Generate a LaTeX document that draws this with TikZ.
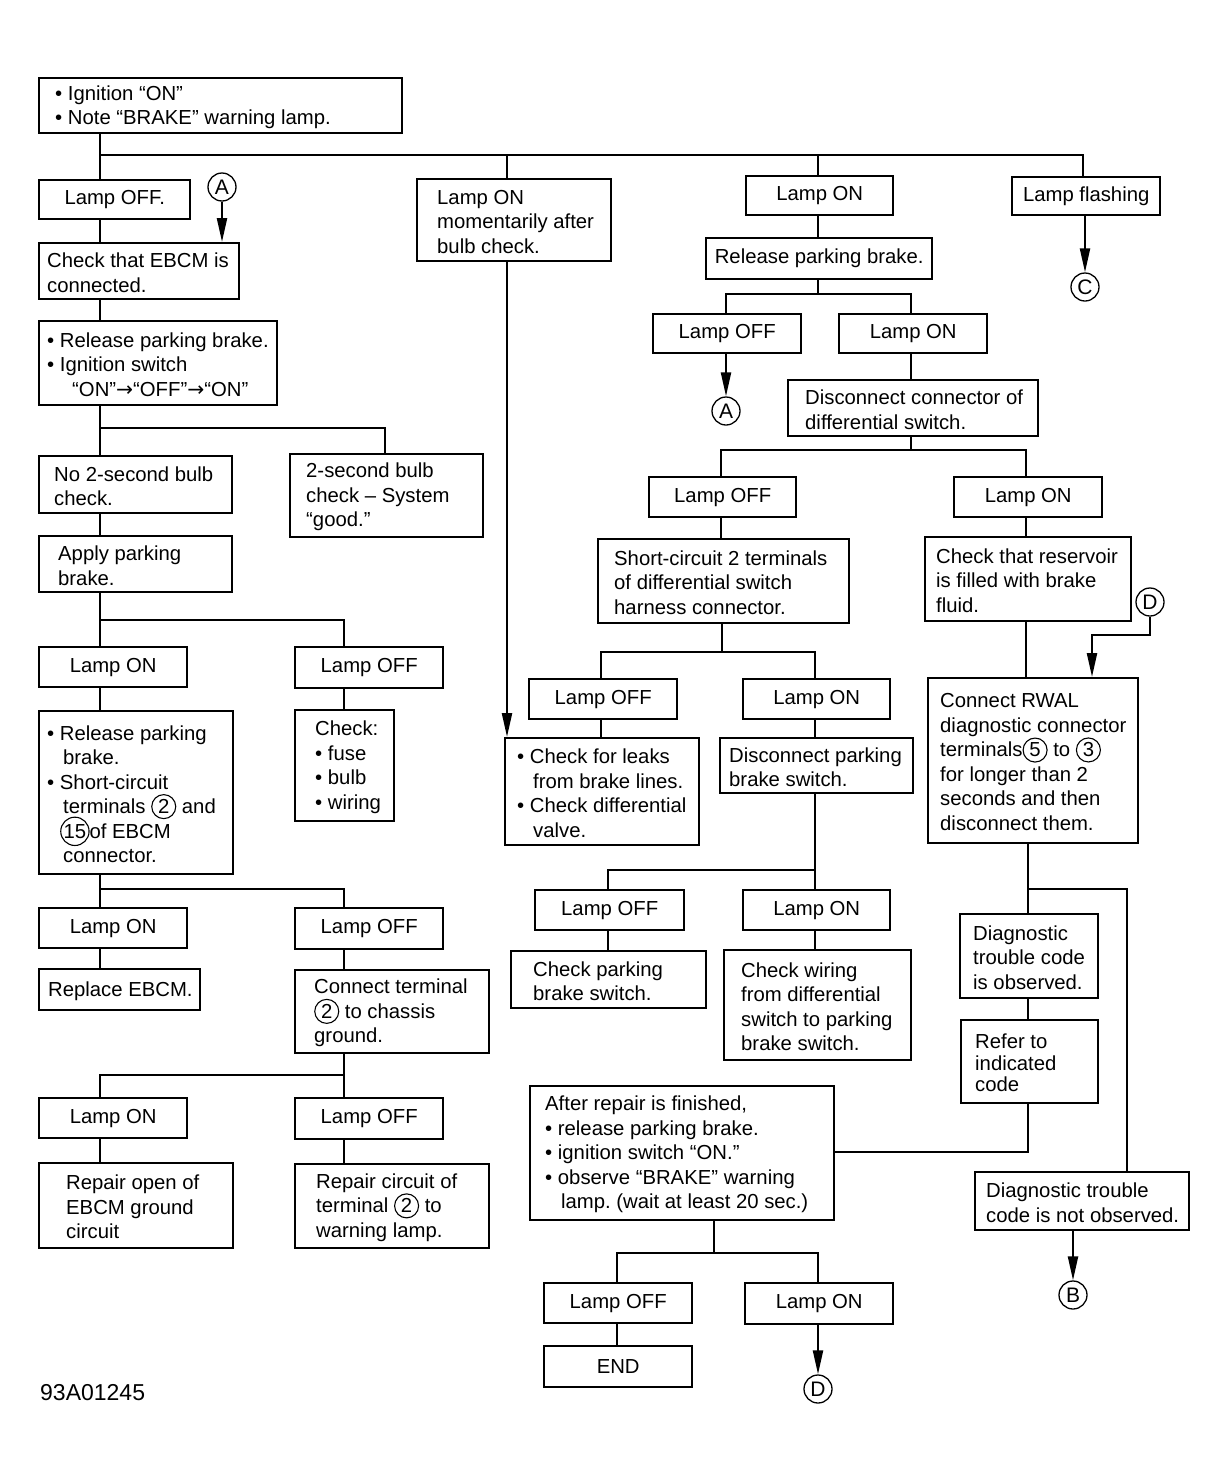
\documentclass[tikz,border=0pt]{standalone}
\usepackage{fontspec}
\setmainfont{Liberation Sans}
\newfontfamily\dejavu{DejaVu Sans}
\usetikzlibrary{arrows.meta,calc}
\newcommand\myfs{\fontsize{20.3}{24.5}\selectfont\frenchspacing\lineskiplimit=-20pt\lineskip=0pt}
\newcommand\myind{\hspace*{16pt}}
\newcommand\rar{{\dejavu →}}
\newcommand\circn[1]{\tikz[baseline=(cn.base)]\node[circle,draw,line width=1.1pt,inner sep=0.6pt,minimum size=24pt,anchor=center,font=\myfs](cn){#1};}
\tikzset{
  bx/.style={draw, line width=2.4pt, inner sep=0pt, font=\myfs, align=center},
  txt/.style={inner sep=0pt, font=\myfs, align=left, anchor=west},
  ln/.style={line width=2.2pt},
  arr/.style={line width=2.2pt, -{Triangle[length=24pt,width=10pt]}},
  ltr/.style={circle, draw, line width=1.3pt, inner sep=0pt, minimum size=28pt, font=\fontsize{21}{21}\selectfont},
}
% left-aligned box: [txt opts]{name}{x1}{y1}{x2}{y2}{pad}{text}
\newcommand\lbox[8][]{\pgfmathsetmacro\mybw{#5-#3}\pgfmathsetmacro\mybh{#6-#4}%
  \node[bx, minimum width=\mybw pt, minimum height=\mybh pt, anchor=north west] (#2) at (#3,#4) {};%
  \node[txt,#1] (#2t) at ([xshift=#7pt,yshift=-1.5pt]#2.west) {#8};}
% centred box: {name}{x1}{y1}{x2}{y2}{text}
\newcommand\cbox[6]{\pgfmathsetmacro\mybw{#4-#2}\pgfmathsetmacro\mybh{#5-#3}%
  \node[bx, minimum width=\mybw pt, minimum height=\mybh pt, anchor=north west] (#1) at (#2,#3) {#6};}
\begin{document}
\begin{tikzpicture}[x=1pt,y=-1pt]
\fill[white] (0,0) rectangle (1227,1478);
\useasboundingbox (0,0) rectangle (1227,1478);

% ---------- left column ----------
\lbox{top}{38}{77}{401}{132}{17}{• Ignition “ON”\\• Note “BRAKE” warning lamp.}
\cbox{loffa}{38}{179}{189}{218}{Lamp OFF.}
\node[ltr] (cAa) at (222,187) {A};
\lbox{chk}{38}{242}{238}{298}{9}{Check that EBCM is\\connected.}
\lbox{rela}{38}{320}{276}{404}{9}{• Release parking brake.\\• Ignition switch\\\hspace*{25pt}“ON”\rar“OFF”\rar“ON”}
\lbox{nob}{38}{455}{231}{512}{16}{No 2-second bulb\\check.}
\lbox{good}{289}{453}{482}{536}{17}{2-second bulb\\check – System\\“good.”}
\lbox{apply}{38}{535}{231}{591}{20}{Apply parking\\brake.}
\cbox{lona}{38}{646}{186}{686}{Lamp ON}
\cbox{loffb}{294}{646}{442}{687}{Lamp OFF}
\lbox{shorta}{38}{710}{232}{873}{9}{• Release parking\\\myind brake.\\• Short-circuit\\\myind terminals \circn{2} and\\\hspace*{13pt}\circn{15}of EBCM\\\myind connector.}
\lbox{chkb}{294}{709}{393}{820}{21}{Check:\\• fuse\\• bulb\\• wiring}
\cbox{lonb}{38}{907}{186}{947}{Lamp ON}
\cbox{loffc}{294}{907}{442}{948}{Lamp OFF}
\lbox{repl}{38}{968}{199}{1009}{10}{Replace EBCM.}
\lbox{conn}{294}{969}{488}{1052}{20}{Connect terminal\\\circn{2} to chassis\\ground.}
\cbox{lonc}{38}{1097}{186}{1137}{Lamp ON}
\cbox{loffd}{294}{1097}{442}{1138}{Lamp OFF}
\lbox{repa}{38}{1162}{232}{1247}{28}{Repair open of\\EBCM ground\\circuit}
\lbox{repb}{294}{1163}{488}{1247}{22}{Repair circuit of\\terminal \circn{2} to\\warning lamp.}

% ---------- middle / right ----------
\lbox{mom}{416}{178}{610}{260}{21}{Lamp ON\\momentarily after\\bulb check.}
\cbox{lond}{745}{175}{892}{214}{Lamp ON}
\cbox{flash}{1011}{176}{1159}{214}{Lamp flashing}
\node[ltr] (cC) at (1085,287) {C};
\cbox{relpb}{705}{237}{931}{278}{Release parking brake.}
\cbox{loffe}{652}{313}{800}{352}{Lamp OFF}
\cbox{lone}{838}{313}{986}{352}{Lamp ON}
\node[ltr] (cAb) at (726,411) {A};
\lbox{disc}{787}{379}{1037}{435}{18}{Disconnect connector of\\differential switch.}
\cbox{lofff}{648}{476}{795}{516}{Lamp OFF}
\cbox{lonf}{953}{476}{1101}{516}{Lamp ON}
\lbox{scb}{597}{538}{848}{622}{17}{Short-circuit 2 terminals\\of differential switch\\harness connector.}
\lbox{res}{924}{536}{1130}{620}{12}{Check that reservoir\\is filled with brake\\fluid.}
\node[ltr] (cDa) at (1150,602) {D};
\cbox{loffg}{528}{678}{676}{718}{Lamp OFF}
\cbox{long}{742}{678}{889}{718}{Lamp ON}
\lbox{leak}{504}{737}{698}{844}{13}{• Check for leaks\\\myind from brake lines.\\• Check differential\\\myind valve.}
\lbox{dpb}{719}{737}{912}{792}{10}{Disconnect parking\\brake switch.}
\lbox{rwal}{927}{677}{1137}{842}{13}{Connect RWAL\\diagnostic connector\\terminals\circn{5} to \circn{3}\\for longer than 2\\seconds and then\\disconnect them.}
\cbox{loffh}{534}{889}{683}{929}{Lamp OFF}
\cbox{lonh}{742}{889}{889}{929}{Lamp ON}
\lbox{cpb}{510}{950}{705}{1007}{23}{Check parking\\brake switch.}
\lbox{cw}{723}{949}{910}{1059}{18}{Check wiring\\from differential\\switch to parking\\brake switch.}
\lbox{dtc}{959}{913}{1097}{997}{14}{Diagnostic\\trouble code\\is observed.}
\lbox[font=\fontsize{20.3}{21.5}\selectfont]{refer}{960}{1019}{1097}{1102}{15}{Refer to\\indicated\\code}
\lbox{after}{529}{1085}{833}{1219}{16}{After repair is finished,\\• release parking brake.\\• ignition switch “ON.”\\• observe “BRAKE” warning\\\myind lamp. (wait at least 20 sec.)}
\lbox{notobs}{974}{1171}{1188}{1229}{12}{Diagnostic trouble\\code is not observed.}
\node[ltr] (cB) at (1073,1295) {B};
\cbox{loffi}{543}{1282}{691}{1322}{Lamp OFF}
\cbox{loni}{744}{1282}{892}{1323}{Lamp ON}
\cbox{endb}{543}{1345}{691}{1386}{END}
\node[ltr] (cDb) at (818,1389) {D};
\node[anchor=west, inner sep=0pt, font=\fontsize{23}{23}\selectfont] (code) at (40,1393) {93A01245};

% ---------- connectors ----------
\coordinate (j0) at (100,155); \coordinate (j0e) at (1083,155);
\coordinate (x507) at (507,155); \coordinate (x818) at (818,155);
\draw[ln] (top.south -| j0) -- (j0) -- (j0e) -- (j0e |- flash.north);
\draw[ln] (j0) -- (j0 |- loffa.north);
\draw[ln] (x507) -- (x507 |- mom.north);
\draw[ln] (x818) -- (x818 |- lond.north);
\draw[arr] (cAa) -- (cAa |- chk.north);
\draw[ln] (loffa.south -| j0) -- (chk.north -| j0);
\draw[ln] (chk.south -| j0) -- (rela.north -| j0);
\coordinate (j1) at (100,428); \coordinate (j1e) at (385,428);
\draw[ln] (rela.south -| j1) -- (j1 |- nob.north);
\draw[ln] (j1) -- (j1e) -- (j1e |- good.north);
\draw[ln] (nob.south -| j1) -- (apply.north -| j1);
\coordinate (j2) at (100,620); \coordinate (j2e) at (344,620);
\draw[ln] (apply.south -| j2) -- (j2 |- lona.north);
\draw[ln] (j2) -- (j2e) -- (j2e |- loffb.north);
\draw[ln] (lona.south -| j2) -- (shorta.north -| j2);
\draw[ln] (loffb.south -| j2e) -- (chkb.north -| j2e);
\coordinate (j3) at (100,889); \coordinate (j3e) at (344,889);
\draw[ln] (shorta.south -| j3) -- (j3 |- lonb.north);
\draw[ln] (j3) -- (j3e) -- (j3e |- loffc.north);
\draw[ln] (lonb.south -| j3) -- (repl.north -| j3);
\draw[ln] (loffc.south -| j3e) -- (conn.north -| j3e);
\coordinate (j4) at (344,1075); \coordinate (j4w) at (100,1075);
\draw[ln] (conn.south -| j4) -- (j4 |- loffd.north);
\draw[ln] (j4) -- (j4w) -- (j4w |- lonc.north);
\draw[ln] (lonc.south -| j4w) -- (repa.north -| j4w);
\draw[ln] (loffd.south -| j4) -- (repb.north -| j4);
\draw[arr] (mom.south -| x507) -- (leak.north -| x507);
\draw[ln] (lond.south -| x818) -- (relpb.north -| x818);
\draw[arr] (flash.south -| cC) -- (cC);
\coordinate (j5) at (818,294); \coordinate (j5w) at (726,294); \coordinate (j5e) at (911,294);
\draw[ln] (relpb.south -| j5) -- (j5);
\draw[ln] (j5w |- loffe.north) -- (j5w) -- (j5e) -- (j5e |- lone.north);
\draw[arr] (loffe.south -| j5w) -- (cAb);
\draw[ln] (lone.south -| j5e) -- (disc.north -| j5e);
\coordinate (j6) at (911,450); \coordinate (j6w) at (721,450); \coordinate (j6e) at (1026,450);
\draw[ln] (disc.south -| j6) -- (j6);
\draw[ln] (j6w |- lofff.north) -- (j6w) -- (j6e) -- (j6e |- lonf.north);
\draw[ln] (lofff.south -| j6w) -- (scb.north -| j6w);
\draw[ln] (lonf.south -| j6e) -- (res.north -| j6e);
\draw[ln] (res.south -| j6e) -- (rwal.north -| j6e);
\coordinate (dj) at (1092,635);
\draw[arr] (cDa) |- (dj) -- (dj |- rwal.north);
\coordinate (j7) at (722,652); \coordinate (j7w) at (601,652); \coordinate (j7e) at (815,652);
\draw[ln] (scb.south -| j7) -- (j7);
\draw[ln] (j7w |- loffg.north) -- (j7w) -- (j7e) -- (j7e |- long.north);
\draw[ln] (loffg.south -| j7w) -- (leak.north -| j7w);
\draw[ln] (long.south -| j7e) -- (dpb.north -| j7e);
\coordinate (j8) at (815,870); \coordinate (j8w) at (608,870);
\draw[ln] (dpb.south -| j8) -- (j8 |- lonh.north);
\draw[ln] (j8) -- (j8w) -- (j8w |- loffh.north);
\draw[ln] (loffh.south -| j8w) -- (cpb.north -| j8w);
\draw[ln] (lonh.south -| j8) -- (cw.north -| j8);
\coordinate (j9) at (1028,889); \coordinate (j9e) at (1127,889);
\draw[ln] (rwal.south -| j9) -- (j9 |- dtc.north);
\draw[ln] (j9) -- (j9e) -- (j9e |- notobs.north);
\draw[ln] (dtc.south -| j9) -- (refer.north -| j9);
\coordinate (j10) at (1028,1152);
\draw[ln] (refer.south -| j10) -- (j10) -- (j10 -| after.east);
\draw[arr] (notobs.south -| cB) -- (cB);
\coordinate (j11) at (714,1253); \coordinate (j11w) at (617,1253); \coordinate (j11e) at (818,1253);
\draw[ln] (after.south -| j11) -- (j11);
\draw[ln] (j11w |- loffi.north) -- (j11w) -- (j11e) -- (j11e |- loni.north);
\draw[ln] (loffi.south -| j11w) -- (endb.north -| j11w);
\draw[arr] (loni.south -| j11e) -- (cDb);
\end{tikzpicture}
\end{document}
